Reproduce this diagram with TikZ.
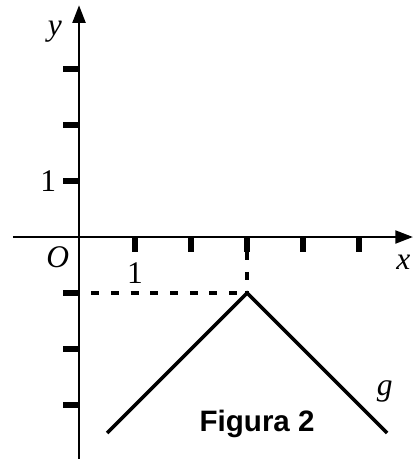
\documentclass[tikz,border=0pt]{standalone}
\usepackage{fontspec}
\setmainfont{Liberation Serif}
\setsansfont{Liberation Sans}
\usetikzlibrary{arrows.meta}
\begin{document}
\begin{tikzpicture}[
  axis/.style={line width=1.4pt,-{Triangle[length=9pt,width=6.5pt]}},
  tickmark/.style={line width=2.6pt},
  graphline/.style={line width=1.8pt},
  guide/.style={line width=1.9pt,dash pattern=on 4pt off 6pt},
  lbl/.style={font=\fontsize{16}{18}\selectfont, inner sep=0pt}
]
\useasboundingbox (-1.411,-3.964) rectangle (5.964,4.232);
% axes
\coordinate (xs) at (-1.18,0);
\coordinate (xe) at (5.964,0);
\coordinate (ys) at (0,-3.964);
\coordinate (ye) at (0,4.14);
\draw[axis] (xs) -- (xe);
\draw[axis] (ys) -- (ye);
% ticks on x-axis
\foreach \i in {1,...,5} {
  \draw[tickmark] (\i,0) -- (\i,-0.27);
}
% ticks on y-axis
\foreach \j in {3,2,1,-1,-2,-3} {
  \draw[tickmark] (0,\j) -- (-0.28,\j);
}
% graph
\coordinate (L) at (0.5,-3.5);
\coordinate (V) at (3,-1);
\coordinate (R) at (5.5,-3.5);
\coordinate (Vx) at (3,-0.27);
\coordinate (Vy) at (0.22,-1);
\draw[guide] (Vy) -- (V);
\draw[guide] (Vx) -- (V);
\draw[graphline] (L) -- (V) -- (R);
% labels
\node[lbl] (ylab) at (-0.43,3.67) {\itshape y};
\node[lbl] (xlab) at (5.79,-0.45) {\itshape x};
\node[lbl] (olab) at (-0.38,-0.36) {\itshape O};
\node[lbl] (one_y) at (-0.55,1.0) {1};
\node[lbl] (one_x) at (1.0,-0.64) {1};
\node[lbl] (glab) at (5.46,-2.75) {\itshape g};
\node[font=\sffamily\bfseries\fontsize{15}{17}\selectfont, inner sep=0pt] (fig) at (3.18,-3.34) {Figura 2};
\end{tikzpicture}
\end{document}
